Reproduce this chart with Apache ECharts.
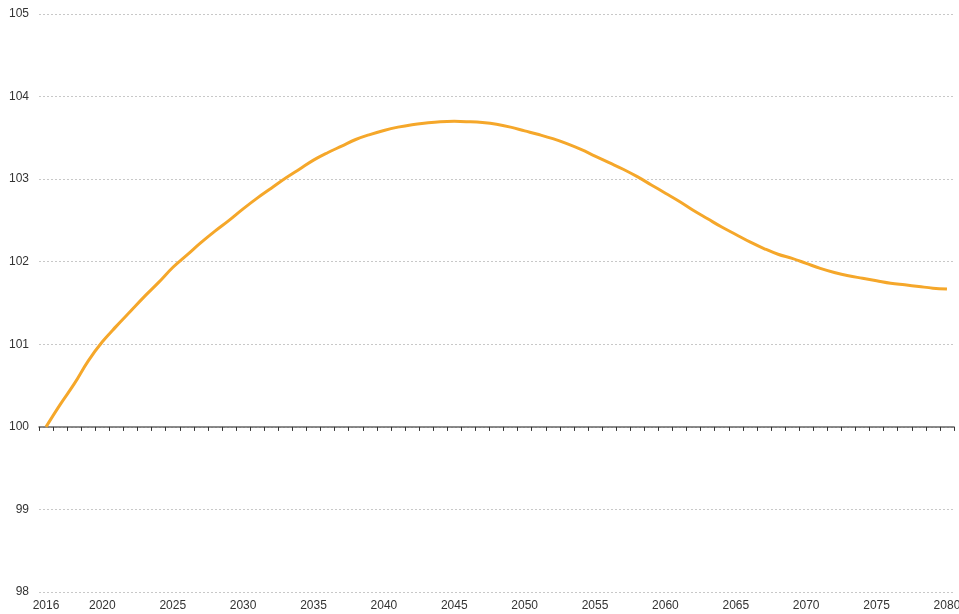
<!DOCTYPE html>
<html><head><meta charset="utf-8">
<script src="https://cdn.jsdelivr.net/npm/echarts@6/dist/echarts.min.js"></script>
<style>html,body{margin:0;padding:0;background:#fff}#c{width:959px;height:614px}</style>
</head><body><div id="c"></div>
<script>
const years = [];
for (let y = 2016; y <= 2080; y++) years.push(String(y));
const values = [
  100.00, 100.27, 100.52, 100.80, 101.03, 101.22, 101.40, 101.58, 101.75, 101.93,
  102.08, 102.23, 102.37, 102.50, 102.64, 102.77, 102.89, 103.01, 103.12, 103.23,
  103.32, 103.40, 103.48, 103.54, 103.59, 103.63, 103.66, 103.68, 103.695, 103.70,
  103.695, 103.685, 103.665, 103.63, 103.585, 103.54, 103.49, 103.43, 103.36, 103.28,
  103.20, 103.12, 103.03, 102.93, 102.83, 102.73, 102.62, 102.52, 102.42, 102.33,
  102.24, 102.16, 102.09, 102.04, 101.98, 101.92, 101.87, 101.83, 101.80, 101.77,
  101.74, 101.72, 101.70, 101.68, 101.67
];
const yTicks = [98, 99, 100, 101, 102, 103, 104, 105];

const chart = echarts.init(document.getElementById('c'));
const shown = (i, v) => v === '2016' || Number(v) % 5 === 0;
chart.setOption({
  animation: false,
  grid: { left: 39, right: 5, top: 14, bottom: 22, containLabel: false, outerBoundsMode: 'none' },
  xAxis: [
    {
      type: 'category', data: years, boundaryGap: true,
      axisLine: { show: false }, axisTick: { show: false },
      axisLabel: { interval: shown, color: '#333', fontSize: 12, margin: 8, fontFamily: 'Liberation Sans, Arial' },
      splitLine: { show: false }
    },
    {
      type: 'category', data: years, boundaryGap: true, position: 'bottom', offset: -165.1,
      axisLine: { show: true, lineStyle: { color: '#666', width: 1.5 } },
      axisTick: { show: true, interval: 0, length: 4, lineStyle: { color: '#333' } },
      axisLabel: { show: false }, splitLine: { show: false }
    }
  ],
  yAxis: {
    type: 'value', min: yTicks[0], max: yTicks[yTicks.length - 1], interval: 1,
    axisLine: { show: false }, axisTick: { show: false },
    axisLabel: { color: '#333', fontSize: 12, margin: 10, fontFamily: 'Liberation Sans, Arial' },
    splitLine: { lineStyle: { color: '#c8c8c8', type: [2, 2], width: 1 } }
  },
  series: [{
    type: 'line', data: values, xAxisIndex: 0, smooth: 0.4, symbol: 'none',
    lineStyle: { color: '#F5A72A', width: 3 }
  }]
});
</script></body></html>
